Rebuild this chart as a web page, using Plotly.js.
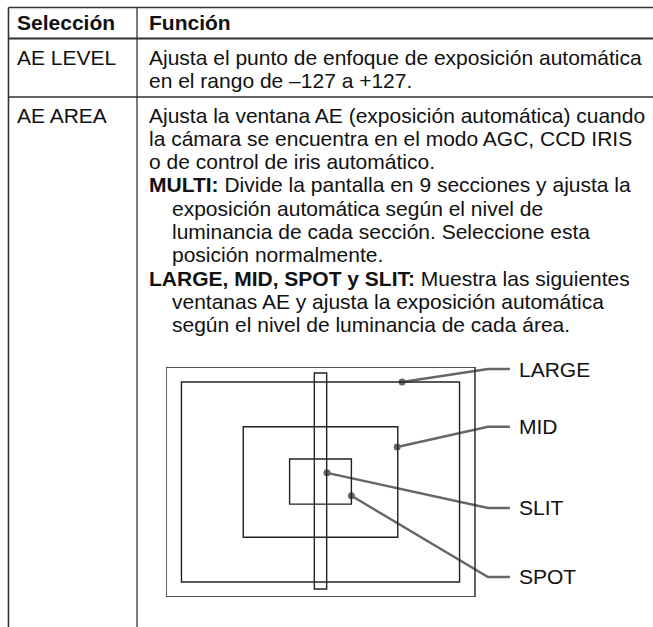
<!DOCTYPE html>
<html>
<head>
<meta charset="utf-8">
<script src="https://cdn.plot.ly/plotly-3.0.1.min.js"></script>
<style>
html,body{margin:0;padding:0;background:#fff;}
#chart{width:653px;height:627px;}
</style>
</head>
<body>
<div id="chart"></div>
<script>
// ---- table content ----
const headers = ['Selección', 'Función'];
const selections = ['AE LEVEL', 'AE AREA'];
const levelLines = [
  'Ajusta el punto de enfoque de exposición automática',
  'en el rango de –127 a +127.'
];
const areaLines = [
  'Ajusta la ventana AE (exposición automática) cuando',
  'la cámara se encuentra en el modo AGC, CCD IRIS',
  'o de control de iris automático.',
  '<b>MULTI:</b> Divide la pantalla en 9 secciones y ajusta la',
  'exposición automática según el nivel de',
  'luminancia de cada sección. Seleccione esta',
  'posición normalmente.',
  '<b>LARGE, MID, SPOT y SLIT:</b> Muestra las siguientes',
  'ventanas AE y ajusta la exposición automática',
  'según el nivel de luminancia de cada área.'
];
const areaIndent = [0, 0, 0, 0, 1, 1, 1, 0, 1, 1];

// ---- AE window diagram (percent of screen frame, y from top) ----
const windowNames = ['LARGE', 'MID', 'SPOT', 'SLIT'];
const windowX0 = [5, 25, 40, 48];
const windowX1 = [95, 75, 60, 52];
const windowY0 = [6.5, 26, 40, 2.6];
const windowY1 = [93.5, 74, 59.6, 96.5];
// leader: point on window edge -> label
const labelNames = ['LARGE', 'MID', 'SLIT', 'SPOT'];
const pointX = [76.4, 74.8, 52.1, 60];
const pointY = [6.5, 34.8, 46, 56];
const labelY = [0.9, 26, 61.3, 91.3];

// ---- layout geometry (page pixels) ----
const W = 653, H = 627;
const FS = 21;
const FONT = 'Liberation Sans, Arial, Helvetica, sans-serif';
const tableLeft = 8.5, colDiv = 137, topLine = 7.5, headLine = 38.5, rowLine = 97;
const col1X = 15, col2X = 147, indentPx = 23;
const headerY = 22.5, levelY0 = 57, areaY0 = 115, lineStep = 23.33;
const frame = {x0: 166, x1: 475, y0: 367, y1: 597};
const elbowPct = 104.2, endPct = 111.3, labelPct = 113.6;

const annotations = [];
const shapes = [];

function txt(x, y, text, opts) {
  annotations.push(Object.assign({
    x: x, y: y, xref: 'x', yref: 'y', text: text, showarrow: false,
    xanchor: 'left', yanchor: 'middle',
    font: {family: FONT, size: FS, color: '#111'}
  }, opts || {}));
}

// header
txt(col1X, headerY, '<b>' + headers[0] + '</b>');
txt(col2X, headerY, '<b>' + headers[1] + '</b>');
// rows
txt(col1X, levelY0, selections[0]);
levelLines.forEach((s, i) => txt(col2X, levelY0 + i * lineStep, s));
txt(col1X, areaY0, selections[1]);
areaLines.forEach((s, i) => txt(col2X + areaIndent[i] * indentPx, areaY0 + i * lineStep, s));

// table rules
const ruleColor = '#333';
function hline(y, w) { shapes.push({type: 'line', xref: 'x', yref: 'y', x0: tableLeft, x1: W + 2, y0: y, y1: y, line: {color: ruleColor, width: w}}); }
function vline(x, w) { shapes.push({type: 'line', xref: 'x', yref: 'y', x0: x, x1: x, y0: topLine, y1: H + 2, line: {color: ruleColor, width: w}}); }
hline(topLine, 1.3);
hline(headLine, 2.2);
hline(rowLine, 1.3);
vline(tableLeft, 1.6);
vline(colDiv, 1.3);

// diagram frame (full screen)
shapes.push({type: 'rect', xref: 'x2', yref: 'y2', x0: 0, x1: 100, y0: 0, y1: 100, line: {color: '#222', width: 1.4}});
windowNames.forEach((n, i) => {
  shapes.push({type: 'rect', xref: 'x2', yref: 'y2', x0: windowX0[i], x1: windowX1[i], y0: windowY0[i], y1: windowY1[i], line: {color: '#222', width: 1.4}});
});

// leaders
const traces = [];
labelNames.forEach((n, i) => {
  traces.push({
    type: 'scatter', mode: 'lines', xaxis: 'x2', yaxis: 'y2',
    x: [pointX[i], elbowPct, endPct], y: [pointY[i], labelY[i], labelY[i]],
    line: {color: '#666', width: 2.4}, hoverinfo: 'skip', showlegend: false
  });
  annotations.push({
    x: labelPct, y: labelY[i], xref: 'x2', yref: 'y2', text: n, showarrow: false,
    xanchor: 'left', yanchor: 'middle', font: {family: FONT, size: FS, color: '#111'}
  });
});
traces.push({
  type: 'scatter', mode: 'markers', xaxis: 'x2', yaxis: 'y2',
  x: pointX, y: pointY, marker: {color: '#666', size: 7}, hoverinfo: 'skip', showlegend: false
});

const fw = frame.x1 - frame.x0, fh = frame.y1 - frame.y0;
const layout = {
  width: W, height: H,
  margin: {l: 0, r: 0, t: 0, b: 0, pad: 0},
  paper_bgcolor: '#fff', plot_bgcolor: 'rgba(0,0,0,0)',
  showlegend: false,
  xaxis: {range: [0, W], visible: false, fixedrange: true, domain: [0, 1]},
  yaxis: {range: [H, 0], visible: false, fixedrange: true, domain: [0, 1]},
  xaxis2: {domain: [frame.x0 / W, 1], range: [0, (W - frame.x0) / fw * 100], visible: false, anchor: 'y2'},
  yaxis2: {domain: [1 - frame.y1 / H, 1 - frame.y0 / H], range: [100, 0], visible: false, anchor: 'x2'},
  shapes: shapes,
  annotations: annotations
};

Plotly.newPlot('chart', traces, layout, {staticPlot: true, displayModeBar: false});
</script>
</body>
</html>
